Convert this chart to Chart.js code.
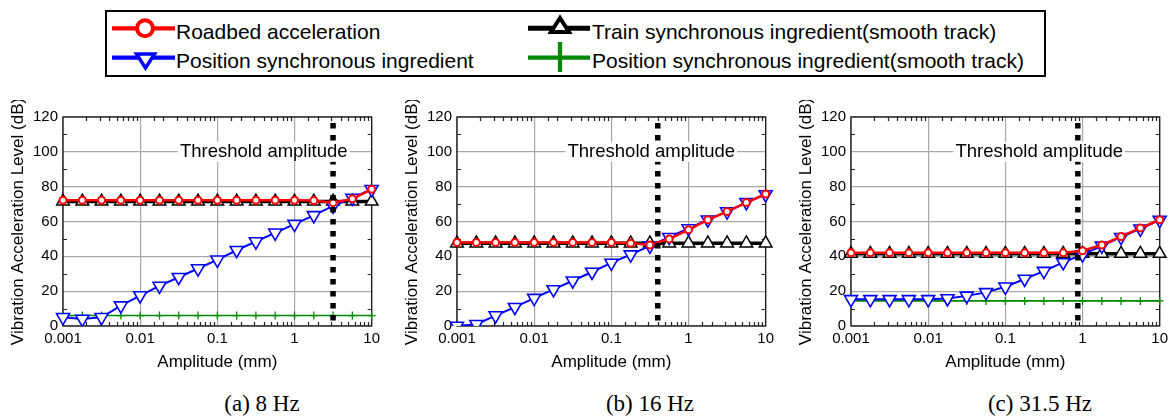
<!DOCTYPE html>
<html>
<head>
<meta charset="utf-8">
<script src="https://cdn.jsdelivr.net/npm/chart.js@4.4.1/dist/chart.umd.min.js"></script>
<style>
html,body{margin:0;padding:0;background:#fff;}
body{width:1170px;height:419px;overflow:hidden;position:relative;font-family:'Liberation Sans',Arial,sans-serif;color:#000;}
canvas{position:absolute;}
#legendBox{position:absolute;left:105px;top:10px;width:941px;height:67px;border:2px solid #000;box-sizing:border-box;}
.lg{position:absolute;font-size:21px;line-height:21px;white-space:nowrap;}
.sub{position:absolute;width:240px;text-align:center;font-family:'Liberation Serif','Times New Roman',serif;font-size:23px;line-height:23px;top:392px;white-space:nowrap;}
</style>
</head>
<body>
<div id="legendBox"></div>
<svg width="1170" height="90" style="position:absolute;left:0;top:0">
  <line x1="112" y1="28.3" x2="175" y2="28.3" stroke="#ff0000" stroke-width="4.3"/>
  <circle cx="145" cy="28.3" r="8" fill="#fff" stroke="#ff0000" stroke-width="4"/>
  <line x1="112" y1="57.7" x2="175" y2="57.7" stroke="#0000ff" stroke-width="4.3"/>
  <polygon points="136.5,54 154.5,54 145.5,68" fill="#fff" stroke="#0000ff" stroke-width="3.5" stroke-linejoin="miter"/>
  <line x1="528" y1="28.3" x2="590" y2="28.3" stroke="#000" stroke-width="5"/>
  <polygon points="560,18 551,32 569,32" fill="#fff" stroke="#000" stroke-width="4"/>
  <line x1="528" y1="57.7" x2="590" y2="57.7" stroke="#008a00" stroke-width="4.3"/>
  <line x1="560" y1="42" x2="560" y2="72" stroke="#008a00" stroke-width="4.3"/>
</svg>
<div class="lg" id="lg0" style="left:176px;top:20.5px"></div>
<div class="lg" id="lg1" style="left:176px;top:49.9px"></div>
<div class="lg" id="lg2" style="left:592px;top:20.5px"></div>
<div class="lg" id="lg3" style="left:592px;top:49.9px"></div>
<canvas id="cA" width="384" height="280" style="left:0px;top:100px"></canvas>
<canvas id="cB" width="384" height="280" style="left:394px;top:100px"></canvas>
<canvas id="cC" width="384" height="280" style="left:788px;top:100px"></canvas>
<div class="sub" id="s0" style="left:142px"></div>
<div class="sub" id="s1" style="left:530px"></div>
<div class="sub" id="s2" style="left:920px"></div>
<script>
// ---------- data ----------
const seriesNames = ['Roadbed acceleration', 'Position synchronous ingredient',
  'Train synchronous ingredient(smooth track)', 'Position synchronous ingredient(smooth track)'];
const subtitles = ['(a) 8 Hz', '(b) 16 Hz', '(c) 31.5 Hz'];
const thresholdText = 'Threshold amplitude';
const xTitle = 'Amplitude (mm)';
const yTitle = 'Vibration Acceleration Level (dB)';
const tickValues = [0.001, 0.01, 0.1, 1, 10];
const tickLabels = ['0.001', '0.01', '0.1', '1', '10'];
const yMinorTicks = [10, 30, 50, 70, 90, 110];

// amplitude (mm), 4 points per decade
const amplitude = [0.001, 0.00178, 0.00316, 0.00562, 0.01, 0.0178, 0.0316, 0.0562,
  0.1, 0.178, 0.316, 0.562, 1, 1.78, 3.16, 5.62, 10];

// (a) 8 Hz
const roadbedA   = [72.2, 72.2, 72.2, 72.2, 72.2, 72.2, 72.2, 72.2, 72.2, 72.2, 72.2, 72.2, 72.2, 72, 70.8, 73, 78.5];
const positionA  = [5, 4, 5, 11.7, 17.5, 23, 28, 33, 38, 43.5, 48.5, 53.5, 58.5, 63.5, 69, 73.5, 78.5];
const trainA     = [71.5, 71.5, 71.5, 71.5, 71.5, 71.5, 71.5, 71.5, 71.5, 71.5, 71.5, 71.5, 71.5, 71.5, 71.5, 71.5, 71.5];
const posSmoothA = [6, 6, 6, 6, 6, 6, 6, 6, 6, 6, 6, 6, 6, 6, 6, 6, 6];

// (b) 16 Hz
const roadbedB   = [48, 48, 48, 48, 48, 48, 48, 48, 48, 47.5, 46.5, 50, 55.2, 61, 65.7, 70.9, 75.8];
const positionB  = [0, 1, 6, 10.8, 16, 21, 26, 31, 36.2, 41, 46, 51, 56, 61, 65.7, 71, 75.5];
const trainB     = [47.5, 47.5, 47.5, 47.5, 47.5, 47.5, 47.5, 47.5, 47.5, 47.5, 47.5, 47.5, 47.5, 47.5, 47.5, 47.5, 47.5];
const posSmoothB = null; // not visible in panel (b)

// (c) 31.5 Hz
const roadbedC   = [42, 42, 42, 42, 42, 42, 42, 42, 42, 42, 42, 42, 43.2, 46.5, 51.4, 56.2, 61];
const positionC  = [15.3, 15.3, 15.3, 15.3, 15.3, 15.8, 17.3, 19.3, 22.5, 27, 31.5, 36.5, 41, 46, 51, 55.8, 60.8];
const trainC     = [41.5, 41.5, 41.5, 41.5, 41.5, 41.5, 41.5, 41.5, 41.5, 41.5, 41.5, 41.5, 41.5, 41.5, 41.5, 41.5, 41.5];
const posSmoothC = [14.4, 14.4, 14.4, 14.4, 14.4, 14.4, 14.4, 14.4, 14.4, 14.4, 14.4, 14.4, 14.4, 14.4, 14.4, 14.4, 14.4];

// threshold amplitude (mm) per panel, and vertical extent (dB) of the dotted marker
const thresholds = [3.16, 0.40, 0.87];
const thresholdSpan = [116.6, 0];
// ---------- end data ----------

['lg0','lg1','lg2','lg3'].forEach((id, i) => {
  document.getElementById(id).textContent = [seriesNames[0], seriesNames[1], seriesNames[2], seriesNames[3]][i];
});
subtitles.forEach((s, i) => document.getElementById('s' + i).textContent = s);

Chart.defaults.font.family = "'Liberation Sans', Arial, sans-serif";
Chart.defaults.color = '#000';

const isDecade = v => tickValues.some(d => Math.abs(v / d - 1) < 1e-6);
const pts = vals => amplitude.map((a, i) => ({x: a, y: vals[i]}));
const CLIP = {left: 12, right: 12, top: 12, bottom: 0};

const framePlugin = {
  id: 'frame',
  beforeDatasetsDraw(chart) {
    const {ctx, chartArea: a, scales: {x, y}} = chart;
    ctx.save();
    ctx.strokeStyle = '#222';
    ctx.lineWidth = 1.2;
    ctx.beginPath();
    x.ticks.forEach(t => {
      if (!isDecade(t.value)) {
        const px = Math.round(x.getPixelForValue(t.value)) + 0.5;
        ctx.moveTo(px, a.top); ctx.lineTo(px, a.top + 4);
        ctx.moveTo(px, a.bottom); ctx.lineTo(px, a.bottom - 4);
      }
    });
    yMinorTicks.forEach(v => {
      const py = Math.round(y.getPixelForValue(v)) + 0.5;
      ctx.moveTo(a.left, py); ctx.lineTo(a.left + 4, py);
      ctx.moveTo(a.right, py); ctx.lineTo(a.right - 4, py);
    });
    ctx.stroke();
    ctx.lineWidth = 1.4;
    ctx.strokeRect(a.left, a.top, a.right - a.left, a.bottom - a.top);
    ctx.restore();
  },
  afterDatasetsDraw(chart, args, opts) {
    const {ctx, scales: {x, y}} = chart;
    ctx.save();
    ctx.font = "18.5px 'Liberation Sans', Arial, sans-serif";
    const w = ctx.measureText(thresholdText).width;
    const cx = x.getPixelForValue(opts.labelX);
    const cy = y.getPixelForValue(opts.labelY);
    ctx.fillStyle = '#fff';
    ctx.fillRect(cx - w / 2 - 2, cy - 10, w + 4, 20);
    ctx.fillStyle = '#000';
    ctx.textAlign = 'center';
    ctx.textBaseline = 'middle';
    ctx.fillText(thresholdText, cx, cy);
    ctx.restore();
  }
};

function makeChart(id, roadbed, position, train, posSmooth, threshold, labelX) {
  const datasets = [
    {data: thresholdSpan.map(v => ({x: threshold, y: v})), borderColor: '#000', borderWidth: 5.5,
     borderDash: [5.5, 6.5], borderCapStyle: 'butt', pointRadius: 0, clip: CLIP},
    {data: pts(roadbed), borderColor: '#ff0000', borderWidth: 2.5, pointStyle: 'circle', pointRadius: 3.5,
     pointBorderWidth: 2, pointBackgroundColor: '#fff', pointBorderColor: '#ff0000', clip: CLIP},
    {data: pts(position), borderColor: '#0000ff', borderWidth: 2, pointStyle: 'triangle', rotation: 180,
     pointRadius: 7.5, pointBorderWidth: 1.6, pointBackgroundColor: '#fff', pointBorderColor: '#0000ff', clip: CLIP},
    {data: pts(train), borderColor: '#000', borderWidth: 3.5, pointStyle: 'triangle', pointRadius: 7.3,
     pointBorderWidth: 1.5, pointBackgroundColor: '#fff', pointBorderColor: '#000', clip: CLIP}
  ];
  if (posSmooth) {
    datasets.push({data: pts(posSmooth), borderColor: '#008a00', borderWidth: 1.6, pointStyle: 'cross',
      pointRadius: 4, pointBorderWidth: 1.3, pointBorderColor: '#008a00', clip: CLIP});
  }
  return new Chart(document.getElementById(id), {
    type: 'line',
    data: {datasets},
    options: {
      responsive: false, maintainAspectRatio: false, animation: false, events: [],
      devicePixelRatio: 1,
      layout: {padding: {top: 17, right: 12, left: 0, bottom: 0}, autoPadding: false},
      plugins: {legend: {display: false}, tooltip: {enabled: false},
        frame: {labelX: labelX, labelY: 100}},
      scales: {
        x: {
          type: 'logarithmic', min: 0.001, max: 10,
          afterFit: s => { s.height = 54; },
          border: {display: false},
          grid: {drawTicks: false, lineWidth: 1.2,
                 color: c => (c.tick && isDecade(c.tick.value)) ? '#a8a8a8' : 'rgba(0,0,0,0)'},
          ticks: {autoSkip: false, maxRotation: 0, minRotation: 0, padding: 4, font: {size: 15},
                  callback: v => { const i = tickValues.findIndex(d => Math.abs(v / d - 1) < 1e-6); return i >= 0 ? tickLabels[i] : ''; }},
          title: {display: true, text: xTitle, font: {size: 17}, padding: {top: 0, bottom: 7.8}}
        },
        y: {
          min: 0, max: 120,
          afterFit: s => { s.width = 63; },
          border: {display: false},
          grid: {drawTicks: false, color: '#a8a8a8', lineWidth: 1.2},
          ticks: {stepSize: 20, padding: 5, font: {size: 15}},
          title: {display: true, text: yTitle, font: {size: 17}, padding: {top: 8.4, bottom: 0}}
        }
      }
    },
    plugins: [framePlugin]
  });
}

makeChart('cA', roadbedA, positionA, trainA, posSmoothA, thresholds[0], 0.40);
makeChart('cB', roadbedB, positionB, trainB, posSmoothB, thresholds[1], 0.33);
makeChart('cC', roadbedC, positionC, trainC, posSmoothC, thresholds[2], 0.275);
</script>
</body>
</html>
